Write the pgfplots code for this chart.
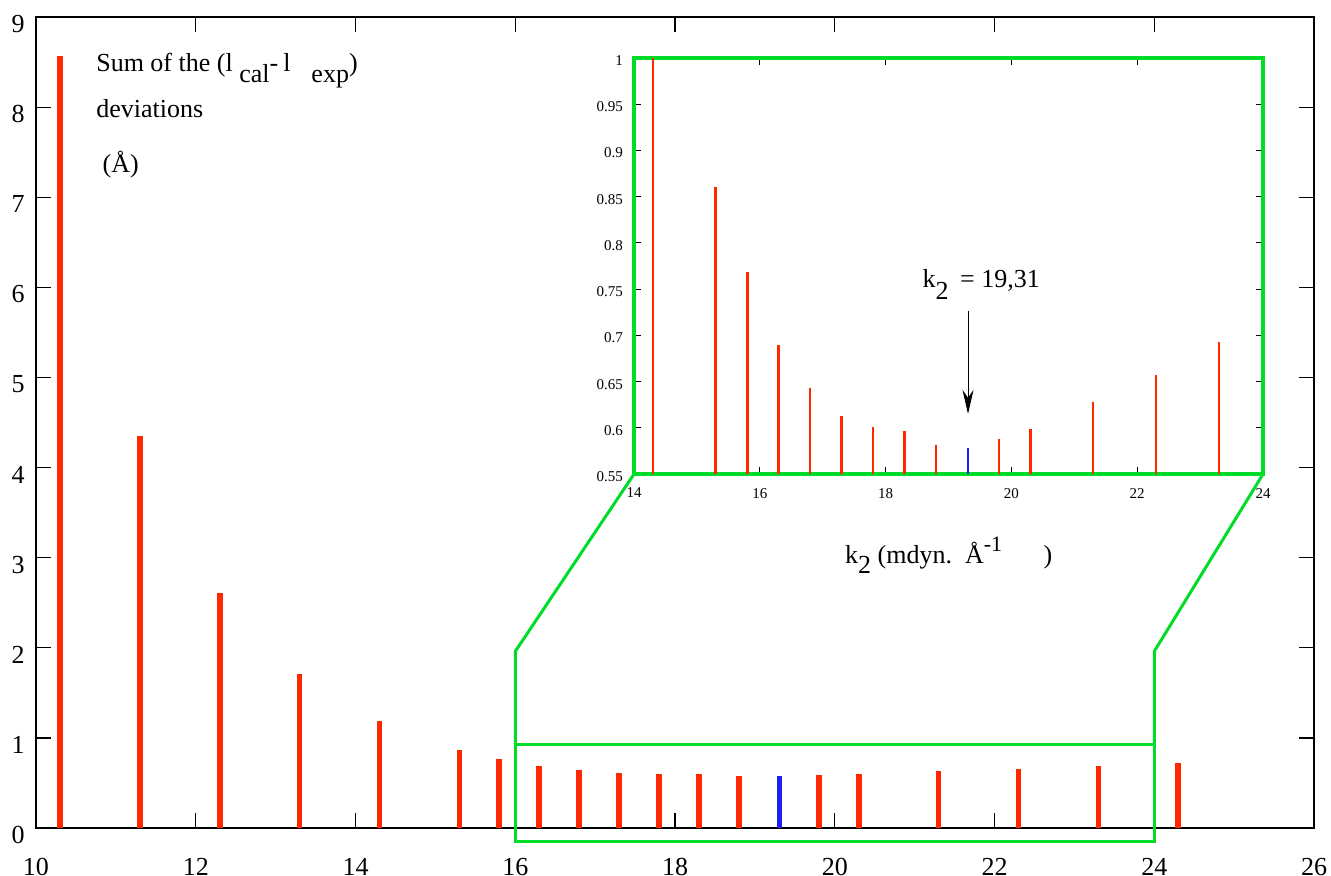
\documentclass[border=0pt]{standalone}
\usepackage{fontspec}
\setmainfont{Liberation Serif}
\usepackage{pgfplots}
\usepackage{pgfplotstable}
\pgfplotsset{compat=1.18}
\usetikzlibrary{arrows.meta}
\definecolor{bred}{RGB}{255,40,0}
\definecolor{bblue}{RGB}{30,30,240}
\definecolor{bgreen}{RGB}{0,220,40}

\pgfplotstableread{
x y
10.3 8.57
11.3 4.35
12.3 2.61
13.3 1.71
14.3 1.19
15.3 0.861
15.8 0.769
16.3 0.690
16.8 0.643
17.3 0.613
17.8 0.601
18.3 0.597
18.8 0.581
19.8 0.588
20.3 0.599
21.3 0.628
22.3 0.657
23.3 0.693
24.3 0.725
}\reddata
\pgfplotstableread{
x y
19.31 0.578
}\bluedata

\begin{document}
\begin{tikzpicture}
\begin{axis}[
  name=main,
  scale only axis, width=639pt, height=405.5pt,
  xmin=10, xmax=26, ymin=0, ymax=9,
  xtick={10,12,...,26}, ytick={0,1,...,9},
  tick align=inside, major tick length=7.5pt,
  tick style={black, line width=0.6pt},
  axis line style={line width=0.8pt},
  clip=false,
  /pgf/number format/assume math mode=true,
  tick label style={font=\fontsize{13}{14}\selectfont, inner sep=0pt},
  xticklabel style={yshift=-15pt},
  yticklabel style={xshift=-5.5pt, yshift=-3.5pt},
]
\addplot[ycomb, bred, line width=2.8pt, no markers] table {\reddata};
\addplot[ycomb, bblue, line width=2.8pt, no markers] table {\bluedata};
\draw[bgreen, line width=1.5pt] (axis cs:16,-0.145) rectangle (axis cs:24,0.93);
\draw[bgreen, line width=1.5pt] (axis cs:16,0.93) -- (axis cs:16,1.96) -- (axis cs:17.487,3.928);
\draw[bgreen, line width=1.5pt] (axis cs:24,0.93) -- (axis cs:24,1.96) -- (axis cs:25.362,3.928);
\node[anchor=base west, inner sep=0pt, font=\fontsize{13}{14}\selectfont] at (axis cs:10.75,8.39)
  {Sum of the (l\hspace{0.25em}\raisebox{-5.5pt}{cal}-\hspace{0.2em}l\hspace{0.8em}\raisebox{-5.5pt}{exp})};
\node[anchor=base west, inner sep=0pt, font=\fontsize{13}{14}\selectfont] at (axis cs:10.75,7.88) {deviations};
\node[anchor=base west, inner sep=0pt, font=\fontsize{13}{14}\selectfont] at (axis cs:10.83,7.27) {(Å)};
\node[anchor=base west, inner sep=0pt, font=\fontsize{13}{14}\selectfont] at (axis cs:20.125,2.94)
  {k\raisebox{-5pt}{2} (mdyn.\ \ Å\raisebox{6pt}{\fontsize{11}{12}\selectfont -1}\hspace{1.6em})};
\end{axis}

\begin{axis}[
  at={(299pt,177pt)}, anchor=south west,
  scale only axis, width=314.5pt, height=208pt,
  xmin=14, xmax=24, ymin=0.55, ymax=1,
  xtick={14,16,...,24}, ytick={0.55,0.6,0.65,0.7,0.75,0.8,0.85,0.9,0.95,1},
  tick align=inside, major tick length=3.3pt,
  tick style={black, line width=0.5pt},
  axis line style={bgreen, line width=1.6pt},
  /pgf/number format/assume math mode=true,
  tick label style={font=\fontsize{7.5}{8}\selectfont},
  xticklabel style={yshift=-3.5pt},
  yticklabel style={xshift=-2pt, yshift=-1.3pt},
]
\addplot[ycomb, bred, line width=1.3pt, no markers] table {\reddata};
\addplot[ycomb, bblue, line width=1.3pt, no markers] table {\bluedata};
\node[anchor=base west, inner sep=0pt, font=\fontsize{13}{14}\selectfont] at (axis cs:18.58,0.752)
  {k\raisebox{-6pt}{2}\hspace{0.45em}= 19,31};
\draw[-{Stealth[length=12pt,width=5.5pt]}, line width=0.5pt] (axis cs:19.31,0.726) -- (axis cs:19.31,0.615);
\end{axis}
\pgfresetboundingbox
\path (-18pt,-23.5pt) rectangle (647.5pt,414pt);
\end{tikzpicture}
\end{document}
